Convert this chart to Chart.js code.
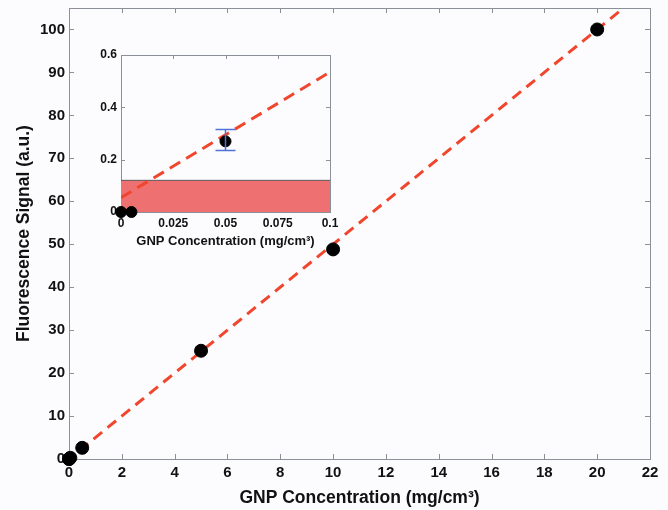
<!DOCTYPE html>
<html>
<head>
<meta charset="utf-8">
<script src="https://cdn.jsdelivr.net/npm/chart.js@4"></script>
<style>
  body { margin: 0; background: #fcfcfe; }
  #wrap { position: relative; width: 668px; height: 510px; }
  #main { position: absolute; left: 0; top: 0; }
  #inset { position: absolute; left: 80px; top: 45px; }
</style>
</head>
<body>
<div id="wrap">
  <canvas id="main" width="668" height="510"></canvas>
  <canvas id="inset" width="265" height="207"></canvas>
</div>
<script>
// measured points (GNP concentration vs fluorescence)
const concX = [0, 0.005, 0.05, 0.5, 5, 10, 20];
const signalY = [0, 0, 0.27, 2.6, 25.2, 48.8, 100];

// linear fits
const mainFitX = [0.4, 21];
const mainFitY = [2, 105];
const insetFitX = [0, 0.1];
const insetFitY = [0.055, 0.535];

// error bar on the 0.05 point
const errX = [0.05];
const errLow = [0.235];
const errHigh = [0.315];

// shaded detection band
const bandX = [0, 0.1];
const bandY = [0.121, 0.121];

// tick labels
const mainXTicks = [0, 2, 4, 6, 8, 10, 12, 14, 16, 18, 20, 22];
const mainYTicks = [0, 10, 20, 30, 40, 50, 60, 70, 80, 90, 100];
const insetXTicks = [0, 0.025, 0.05, 0.075, 0.1];
const insetYTicks = [0, 0.2, 0.4, 0.6];

const FONT = "'Liberation Sans', Arial, sans-serif";
const RED = '#f0462d';

function pts(xs, ys) {
    return xs.map((x, i) => ({ x: x, y: ys[i] }));
}

// box around plot + inward tick marks like matlab
const matlabFrame = {
    id: 'matlabFrame',
    beforeDatasetsDraw(chart, args, opts) {
        const { ctx, chartArea: a, scales } = chart;
        const len = opts.tickLen || 5;
        ctx.save();
        ctx.strokeStyle = '#8a8f98';
        ctx.lineWidth = 1;
        ctx.strokeRect(Math.round(a.left) + 0.5, Math.round(a.top) + 0.5,
            Math.round(a.width), Math.round(a.height));
        ctx.beginPath();
        scales.x.ticks.forEach(t => {
            const px = Math.round(scales.x.getPixelForValue(t.value)) + 0.5;
            ctx.moveTo(px, a.bottom); ctx.lineTo(px, a.bottom - len);
            ctx.moveTo(px, a.top); ctx.lineTo(px, a.top + len);
        });
        scales.y.ticks.forEach(t => {
            const py = Math.round(scales.y.getPixelForValue(t.value)) + 0.5;
            ctx.moveTo(a.left, py); ctx.lineTo(a.left + len, py);
            ctx.moveTo(a.right, py); ctx.lineTo(a.right - len, py);
        });
        ctx.stroke();
        ctx.restore();
    }
};

const errorBars = {
    id: 'errorBars',
    afterDatasetsDraw(chart) {
        const { ctx, scales: { x, y } } = chart;
        ctx.save();
        ctx.strokeStyle = '#4f72d6';
        ctx.lineWidth = 1.5;
        errX.forEach((v, i) => {
            const px = x.getPixelForValue(v);
            const lo = y.getPixelForValue(errLow[i]);
            const hi = y.getPixelForValue(errHigh[i]);
            ctx.beginPath();
            ctx.moveTo(px, lo); ctx.lineTo(px, hi);
            ctx.moveTo(px - 10, lo); ctx.lineTo(px + 10, lo);
            ctx.moveTo(px - 10, hi); ctx.lineTo(px + 10, hi);
            ctx.stroke();
        });
        ctx.restore();
    }
};

function fixedTicks(list) {
    return function (scale) {
        scale.ticks = list.map(v => ({ value: v }));
    };
}

// pin scale sizes so the plot box lands where the figure has it
function fitX(h) {
    return s => { s.height = h; s.paddingLeft = 0; s.paddingRight = 0; };
}
function fitY(w) {
    return s => { s.width = w; s.paddingTop = 0; s.paddingBottom = 0; };
}

const mainChart = new Chart(document.getElementById('main'), {
    type: 'scatter',
    data: {
        datasets: [{
            data: pts(mainFitX, mainFitY),
            showLine: true,
            borderColor: RED,
            borderWidth: 3,
            borderDash: [11, 7],
            pointRadius: 0,
            order: 2
        }, {
            data: pts(concX, signalY),
            backgroundColor: '#000',
            borderColor: '#000',
            pointRadius: 6.5,
            clip: false,
            order: 1
        }]
    },
    options: {
        responsive: false,
        animation: false,
        layout: { padding: { top: 8, right: 18, left: 0, bottom: 0 } },
        plugins: {
            legend: { display: false },
            tooltip: { enabled: false },
            matlabFrame: { tickLen: 5 }
        },
        scales: {
            x: {
                type: 'linear', min: 0, max: 22,
                afterBuildTicks: fixedTicks(mainXTicks),
                afterFit: fitX(51),
                grid: { display: false, drawTicks: false },
                border: { display: false },
                ticks: { padding: 5, color: '#111', font: { family: FONT, size: 15, weight: 'bold' } },
                title: {
                    display: true, text: 'GNP Concentration (mg/cm³)', color: '#111',
                    font: { family: FONT, size: 17.5, weight: 'bold' }, padding: { top: 0, bottom: 1 }
                }
            },
            y: {
                type: 'linear', min: 0, max: 105,
                afterBuildTicks: fixedTicks(mainYTicks),
                afterFit: fitY(69),
                grid: { display: false, drawTicks: false },
                border: { display: false },
                ticks: { padding: 4, color: '#111', font: { family: FONT, size: 15, weight: 'bold' } },
                title: {
                    display: true, text: 'Fluorescence Signal (a.u.)', color: '#111',
                    font: { family: FONT, size: 17.5, weight: 'bold' }, padding: { top: 14, bottom: 0 }
                }
            }
        }
    },
    plugins: [matlabFrame]
});

const insetChart = new Chart(document.getElementById('inset'), {
    type: 'scatter',
    data: {
        datasets: [{
            data: pts(bandX, bandY),
            showLine: true,
            fill: 'origin',
            backgroundColor: 'rgba(238, 112, 112, 1)',
            borderColor: '#5a5a5a',
            borderWidth: 1,
            pointRadius: 0,
            order: 3
        }, {
            data: pts(insetFitX, insetFitY),
            showLine: true,
            borderColor: RED,
            borderWidth: 3,
            borderDash: [12, 7],
            pointRadius: 0,
            order: 2
        }, {
            data: pts(concX, signalY),
            backgroundColor: '#000',
            borderColor: '#000',
            pointRadius: 5.5,
            clip: false,
            order: 1
        }]
    },
    options: {
        responsive: false,
        animation: false,
        layout: { padding: { top: 10, right: 15, left: 0, bottom: 0 } },
        plugins: {
            legend: { display: false },
            tooltip: { enabled: false },
            matlabFrame: { tickLen: 4 }
        },
        scales: {
            x: {
                type: 'linear', min: 0, max: 0.1,
                afterBuildTicks: fixedTicks(insetXTicks),
                afterFit: fitX(40),
                grid: { display: false, drawTicks: false },
                border: { display: false },
                ticks: {
                    padding: 4, color: '#111', font: { family: FONT, size: 12, weight: 'bold' },
                    callback: v => String(v)
                },
                title: {
                    display: true, text: 'GNP Concentration (mg/cm³)', color: '#111',
                    font: { family: FONT, size: 13, weight: 'bold' }, padding: { top: 0, bottom: 3 }
                }
            },
            y: {
                type: 'linear', min: 0, max: 0.6,
                afterBuildTicks: fixedTicks(insetYTicks),
                afterFit: fitY(41),
                grid: { display: false, drawTicks: false },
                border: { display: false },
                ticks: {
                    padding: 4, color: '#111', font: { family: FONT, size: 12, weight: 'bold' },
                    callback: v => String(v)
                }
            }
        }
    },
    plugins: [matlabFrame, errorBars]
});
</script>
</body>
</html>
